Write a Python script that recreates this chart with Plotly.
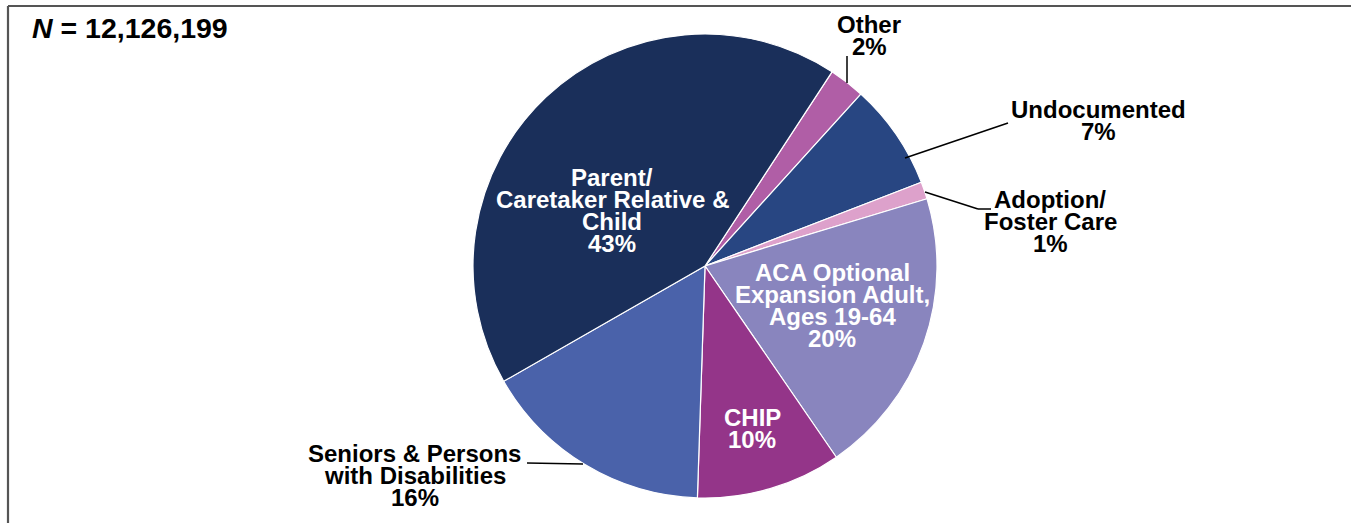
import plotly.graph_objects as go

W, H = 1351, 523

# ---- data ----
categories = ["Other", "Undocumented", "Adoption/<br>Foster Care",
              "ACA Optional<br>Expansion Adult,<br>Ages 19-64", "CHIP",
              "Seniors & Persons<br>with Disabilities",
              "Parent/<br>Caretaker Relative &<br>Child"]
shares = [2.5, 7.4, 1.2, 20.1, 10.1, 16.2, 42.5]
pct_labels = ["2%", "7%", "1%", "20%", "10%", "16%", "43%"]
total_n = "12,126,199"

colors = ["#b05ea6", "#284682", "#dda1cb", "#8985be", "#943589", "#4a62aa", "#1a2f5a"]

# label placement (center x px, first baseline px, text colour)
label_pos = [
    (869, 33, "black"),
    (1098, 118, "black"),
    (1050, 208, "black"),
    (832, 281, "white"),
    (752, 426, "white"),
    (415, 462, "black"),
    (612, 186, "white"),
]
# leader lines (px polylines)
leaders = {
    0: [(847, 56), (847, 83)],
    1: [(1008, 123), (905, 158)],
    2: [(925, 192), (978, 209), (991, 209)],
    5: [(527, 463), (583, 464)],
}

FONT = "Liberation Sans, Arial, sans-serif"
FS = 24
LINE = 22


def px(x, y):
    return x / W, 1 - y / H


fig = go.Figure(go.Pie(
    labels=categories,
    values=shares,
    sort=False,
    direction="clockwise",
    rotation=33.2,
    marker=dict(colors=colors, line=dict(color="white", width=1.2)),
    textinfo="none",
    hoverinfo="label+percent",
    domain=dict(x=[(705 - 300) / W, (705 + 300) / W], y=[1 - 498 / H, 1 - 34 / H]),
    showlegend=False,
))

annotations = []
for i, (cat, pct) in enumerate(zip(categories, pct_labels)):
    cx, base, col = label_pos[i]
    lines = cat.split("<br>") + [pct]
    for k, line in enumerate(lines):
        b = base + k * LINE
        xc, yc = px(cx, b - 0.3465 * FS)
        annotations.append(dict(
            x=xc, y=yc, xref="paper", yref="paper", text=line, showarrow=False,
            xanchor="center", yanchor="middle", borderpad=0,
            font=dict(family=FONT, size=FS, color=col, weight="bold"),
        ))

# N = ...
NFS = 28.5
xn, yn = px(30, 37.5 - 0.3465 * NFS)
annotations.append(dict(
    x=xn, y=yn, xref="paper", yref="paper",
    text="<i>N</i> = " + total_n, showarrow=False,
    xanchor="left", yanchor="middle",
    font=dict(family=FONT, size=NFS, color="black", weight="bold"),
))

shapes = []
for idx, pts in leaders.items():
    for (x0, y0), (x1, y1) in zip(pts[:-1], pts[1:]):
        a0, b0 = px(x0, y0)
        a1, b1 = px(x1, y1)
        shapes.append(dict(type="line", xref="paper", yref="paper",
                           x0=a0, y0=b0, x1=a1, y1=b1,
                           line=dict(color="black", width=1.5)))

# frame lines (top and left)
fx, fy = px(8, 6)
shapes.append(dict(type="line", xref="paper", yref="paper", x0=fx, y0=fy, x1=1, y1=fy,
                   line=dict(color="#555555", width=2.2)))
shapes.append(dict(type="line", xref="paper", yref="paper", x0=fx, y0=fy, x1=fx, y1=0,
                   line=dict(color="#555555", width=2.2)))

fig.update_layout(
    width=W, height=H,
    margin=dict(l=0, r=0, t=0, b=0),
    paper_bgcolor="white", plot_bgcolor="white",
    annotations=annotations, shapes=shapes,
)

fig.write_html("out.html", config={"displayModeBar": False},
               post_script="document.body.style.margin='0';document.body.style.overflow='hidden';")
